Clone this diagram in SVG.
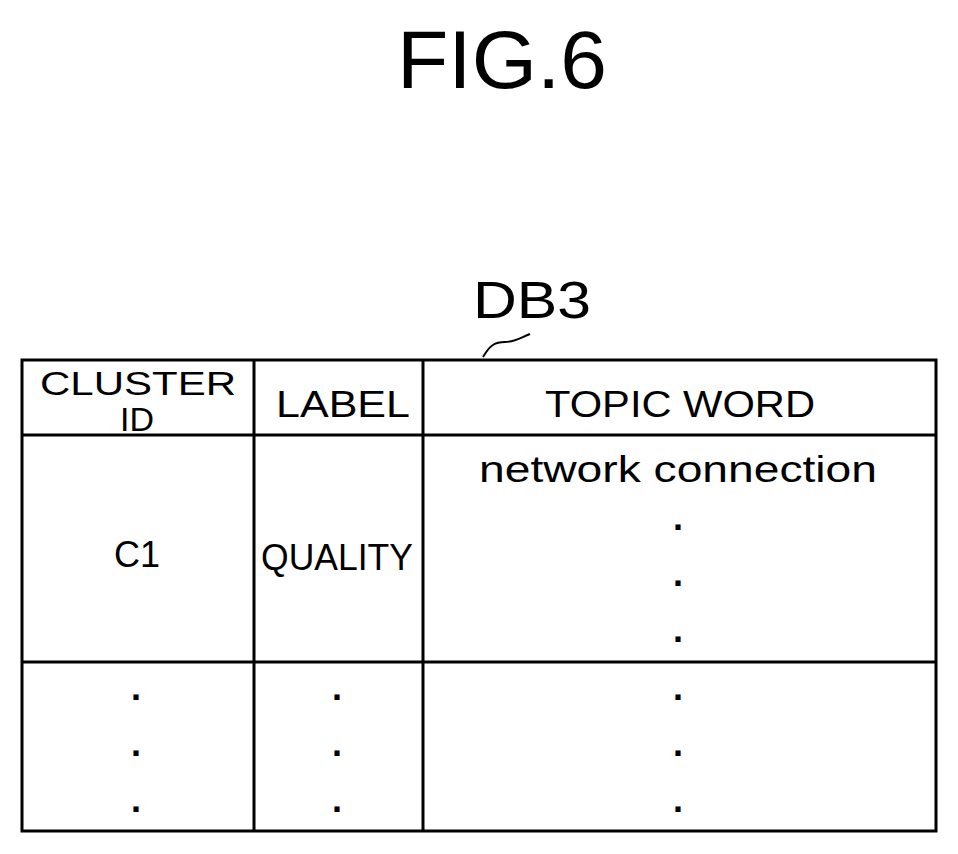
<svg xmlns="http://www.w3.org/2000/svg" width="958" height="854" viewBox="0 0 958 854">
<style>
text{font-family:"Liberation Sans",Arial,sans-serif;fill:#000;text-anchor:middle}
.t{font-size:36px}
.d{font-size:36px;font-weight:bold}
line{stroke:#000;stroke-width:3}
</style>
<rect width="958" height="854" fill="#fff"/>
<text x="502" y="88" font-size="82" textLength="210" lengthAdjust="spacingAndGlyphs">FIG.6</text>
<text x="532" y="318" font-size="52" textLength="118" lengthAdjust="spacingAndGlyphs">DB3</text>
<path d="M483,357 C490,345 495,342 505,342 C515,342 520,338 530,334" fill="none" stroke="#000" stroke-width="2"/>
<g id="table">
<rect x="22" y="360" width="914" height="471" fill="none" stroke="#000" stroke-width="3"/>
<line x1="254" y1="360" x2="254" y2="831"/>
<line x1="423" y1="360" x2="423" y2="831"/>
<line x1="22" y1="435" x2="936" y2="435"/>
<line x1="22" y1="662" x2="936" y2="662"/>
</g>
<g id="header">
<text x="138" y="395" font-size="34" textLength="196" lengthAdjust="spacingAndGlyphs">CLUSTER</text>
<text x="137" y="431" font-size="34">ID</text>
<text class="t" x="343" y="417" textLength="134" lengthAdjust="spacingAndGlyphs">LABEL</text>
<text class="t" x="680" y="417" textLength="270" lengthAdjust="spacingAndGlyphs">TOPIC WORD</text>
</g>
<g id="row1">
<text class="t" x="137" y="567">C1</text>
<text class="t" x="337" y="570" textLength="152" lengthAdjust="spacingAndGlyphs">QUALITY</text>
<text class="t" x="678" y="482" textLength="398" lengthAdjust="spacingAndGlyphs">network connection</text>
<text class="d" x="678" y="530">.</text>
<text class="d" x="678" y="586">.</text>
<text class="d" x="678" y="642">.</text>
</g>
<g id="row2">
<text class="d" x="136" y="700">.</text><text class="d" x="136" y="756">.</text><text class="d" x="136" y="812">.</text>
<text class="d" x="337" y="700">.</text><text class="d" x="337" y="756">.</text><text class="d" x="337" y="812">.</text>
<text class="d" x="678" y="700">.</text><text class="d" x="678" y="756">.</text><text class="d" x="678" y="812">.</text>
</g>
</svg>
